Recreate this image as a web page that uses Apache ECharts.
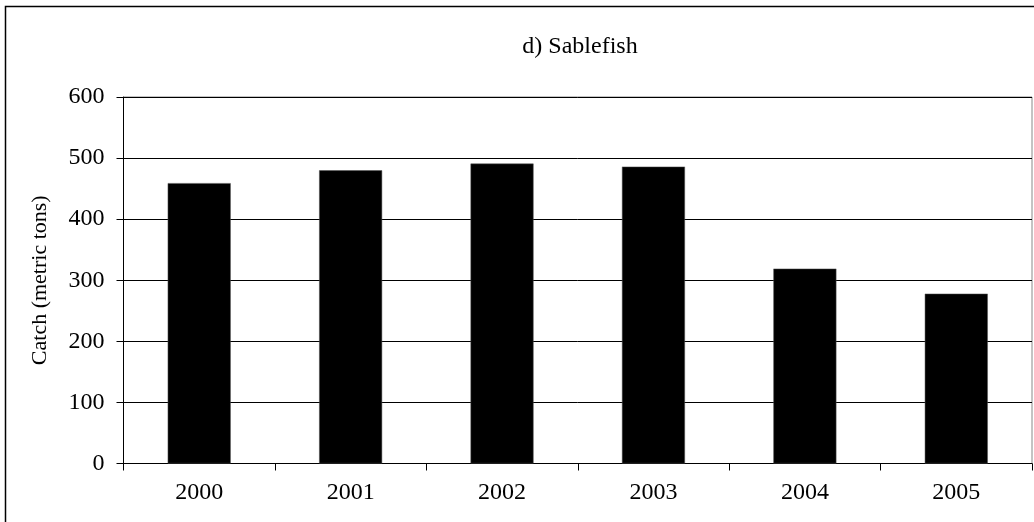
<!DOCTYPE html>
<html>
<head>
<meta charset="utf-8">
<script src="https://cdn.jsdelivr.net/npm/echarts@6/dist/echarts.min.js"></script>
<style>
html,body{margin:0;padding:0;background:#fff;}
#c{width:1034px;height:522px;}
</style>
</head>
<body>
<div id="c"></div>
<script>
const categories = ['2000', '2001', '2002', '2003', '2004', '2005'];
const catchValues = [459, 480, 491, 486, 319, 278];
const yTicks = [0, 100, 200, 300, 400, 500, 600];
const titleText = 'd) Sablefish';
const yAxisName = 'Catch (metric tons)';

const chart = echarts.init(document.getElementById('c'), null, {renderer: 'canvas'});
const FONT = '"Liberation Serif", "Times New Roman", serif';
chart.setOption({
  animation: false,
  backgroundColor: '#fff',
  title: {
    text: titleText,
    left: 575, top: 30, textAlign: 'center',
    textStyle: {fontFamily: FONT, fontSize: 24, fontWeight: 'normal', color: '#000'}
  },
  graphic: [{
    type: 'rect', silent: true, z: 100,
    shape: {x: 5.5, y: 6.5, width: 1040, height: 530},
    style: {fill: 'none', stroke: '#000', lineWidth: 1.5}
  }],
  grid: {
    left: 123.5, right: 2, top: 97, bottom: 58.5,
    show: true, borderColor: '#888', borderWidth: 1, backgroundColor: 'transparent'
  },
  xAxis: {
    type: 'category', data: categories,
    axisLine: {lineStyle: {color: '#000', width: 1}},
    axisTick: {show: true, length: 7, inside: false, lineStyle: {color: '#000'}},
    axisLabel: {fontFamily: FONT, fontSize: 24, color: '#000', margin: 17}
  },
  yAxis: {
    type: 'value', min: yTicks[0], max: yTicks[yTicks.length - 1], interval: 100,
    name: yAxisName, nameLocation: 'middle', nameGap: 72, nameRotate: 90,
    nameTextStyle: {fontFamily: FONT, fontSize: 22, color: '#000'},
    axisLine: {show: true, lineStyle: {color: '#000', width: 1}},
    axisTick: {show: true, length: 7, lineStyle: {color: '#000'}},
    axisLabel: {fontFamily: FONT, fontSize: 24, color: '#000', margin: 19},
    splitLine: {show: true, lineStyle: {color: '#000', width: 1}}
  },
  series: [{
    type: 'bar', data: catchValues, barWidth: 63,
    itemStyle: {color: '#000', borderColor: '#555', borderWidth: 0.5}
  }]
});
</script>
</body>
</html>
